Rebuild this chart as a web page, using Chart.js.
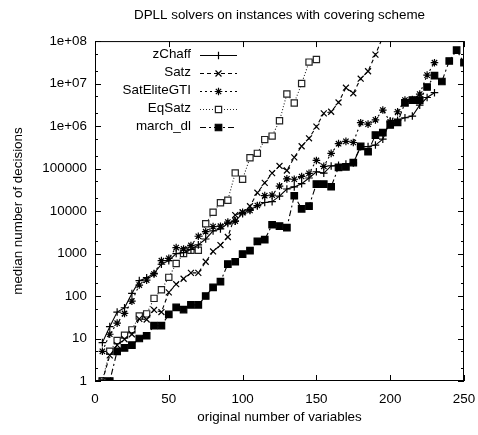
<!DOCTYPE html>
<html><head><meta charset="utf-8">
<script src="https://cdn.jsdelivr.net/npm/chart.js@4.4.1/dist/chart.umd.min.js"></script>
<style>html,body{margin:0;padding:0;background:#fff}canvas{display:block}</style>
</head><body>
<canvas id="c" width="478" height="435"></canvas>
<script>
// ---- data ----
const xValues = [5,10,15,20,25,30,35,40,45,50,55,60,65,70,75,80,85,90,95,100,105,110,115,120,125,130,135,140,145,150,155,160,165,170,175,180,185,190,195,200,205,210,215,220,225,230,235,240,245,250];
const zChaff = [8,19,42,53,115,230,270,340,560,680,1000,1050,1250,1600,2200,3400,3800,5100,5800,8700,10800,13200,15900,16700,22500,33000,37000,44000,60000,84000,78000,115000,120000,128000,135000,326000,330000,357000,490000,1330000,1370000,1570000,1720000,3100000,4700000,6100000];
const satz = [1,4,7,9.6,12.6,29,28,47,42,122,190,255,350,350,640,1120,1585,2450,8050,9300,13000,27000,46000,78000,115000,90000,183000,335000,515000,970000,1990000,2170000,3600000,8000000,5900000,13000000,19500000,48000000,125000000];
const satEliteGTI = [5,12.6,23,39,76,181,237,330,680,770,1380,1280,1550,2550,3260,4300,4400,5500,5800,9300,10300,13500,23000,23800,38700,57000,56000,65000,77000,155000,113000,228000,385000,437000,410000,1200000,1110000,1400000,2380000,1260000,2170000,4100000,4200000,5660000,15800000,31000000];
const eqSatz = [1,5,9,12,16,34,38,88,140,275,580,1000,1200,1200,5000,9400,15700,18000,79000,56000,180000,228000,480000,580000,1330000,5660000,3500000,10000000,32000000,37000000];
const marchDl = [1,1,5,6,7,10,11.6,20,20,37,54,48,62,62,100,160,217,566,641,973,1164,1936,2113,4760,4436,4050,22900,11300,13100,43200,43000,37300,107000,110000,138000,333000,249000,614000,697000,1060000,1220000,3530000,4100000,4100000,8300000,15300000,11200000,34000000,61000000,31000000];
const seriesNames = ['zChaff','Satz','SatEliteGTI','EqSatz','march_dl'];
const xTickValues = [0,50,100,150,200,250];
const yTickValues = [1,10,100,1000,10000,100000,1000000,10000000,100000000];
const yTickLabels = ['1','10','100','1000','10000','100000','1e+06','1e+07','1e+08'];
const titleText = 'DPLL solvers on instances with covering scheme';
const xTitle = 'original number of variables';
const yTitle = 'median number of decisions';

// ---- styles ----
const FONT = "'Liberation Sans', Arial, Helvetica, sans-serif";
const FS = 13.4;
Chart.defaults.font.family = FONT;
Chart.defaults.font.size = FS;
Chart.defaults.color = '#000';

const styles = [
  {dash: [], pointStyle: 'cross', radius: 3.8, fill: '#000', color: '#000'},
  {dash: [4,3], pointStyle: 'crossRot', radius: 4.2, fill: '#000', color: '#000'},
  {dash: [2,3], pointStyle: 'star', radius: 3.8, fill: '#000', color: '#000'},
  {dash: [1,2], pointStyle: 'rect', radius: 4.4, fill: '#fff', color: '#222'},
  {dash: [6,3,2,3], pointStyle: 'rect', radius: 4.6, fill: '#000', color: '#000'}
];
const seriesValues = [zChaff, satz, satEliteGTI, eqSatz, marchDl];

const datasets = seriesValues.map((vals, i) => ({
  label: seriesNames[i],
  data: vals.map((v, k) => ({x: xValues[k], y: v})),
  borderColor: styles[i].color,
  backgroundColor: styles[i].fill,
  borderWidth: 1.1,
  borderDash: styles[i].dash,
  pointStyle: styles[i].pointStyle,
  pointRadius: styles[i].radius,
  pointBorderColor: styles[i].color,
  pointBackgroundColor: styles[i].fill,
  pointBorderWidth: 1.2,
  tension: 0,
  fill: false
}));

const framePlugin = {
  id: 'frame',
  afterDatasetsDraw(chart) {
    const {ctx, chartArea: a, scales: {x, y}} = chart;
    ctx.save();
    ctx.strokeStyle = '#000';
    ctx.lineWidth = 1;
    ctx.setLineDash([]);
    ctx.strokeRect(a.left + 0.5, a.top + 0.5, a.right - a.left - 1, a.bottom - a.top - 1);
    ctx.beginPath();
    xTickValues.forEach(v => {
      const px = Math.round(x.getPixelForValue(v)) + 0.5;
      ctx.moveTo(px, a.bottom); ctx.lineTo(px, a.bottom - 6);
      ctx.moveTo(px, a.top); ctx.lineTo(px, a.top + 6);
    });
    yTickValues.forEach((v, i) => {
      const py = Math.round(y.getPixelForValue(v)) + 0.5;
      ctx.moveTo(a.left, py); ctx.lineTo(a.left + 6, py);
      ctx.moveTo(a.right, py); ctx.lineTo(a.right - 6, py);
      if (i < yTickValues.length - 1) {
        [2, 5].forEach(m => {
          const pm = Math.round(y.getPixelForValue(v * m)) + 0.5;
          ctx.moveTo(a.left, pm); ctx.lineTo(a.left + 3, pm);
          ctx.moveTo(a.right, pm); ctx.lineTo(a.right - 3, pm);
        });
      }
    });
    ctx.stroke();
    ctx.restore();
  },
  afterDraw(chart) {
    const {ctx} = chart;
    ctx.save();
    ctx.font = FS + 'px ' + FONT;
    ctx.textAlign = 'right';
    ctx.textBaseline = 'middle';
    chart.data.datasets.forEach((ds, i) => {
      const yy = 54.5 + i * 18;
      ctx.fillStyle = '#000';
      ctx.fillText(ds.label, 191, yy);
      ctx.beginPath();
      ctx.strokeStyle = ds.borderColor;
      ctx.lineWidth = 1.1;
      ctx.setLineDash(ds.borderDash);
      ctx.moveTo(200, Math.round(yy) + 0.5);
      ctx.lineTo(237, Math.round(yy) + 0.5);
      ctx.stroke();
      ctx.setLineDash([]);
      ctx.lineWidth = 1.2;
      ctx.fillStyle = ds.pointBackgroundColor;
      ctx.strokeStyle = ds.pointBorderColor;
      Chart.helpers.drawPoint(ctx, {pointStyle: ds.pointStyle, radius: ds.pointRadius, rotation: 0, borderWidth: 1.2}, 218.5, Math.round(yy) + 0.5);
    });
    ctx.restore();
  }
};

new Chart(document.getElementById('c'), {
  type: 'line',
  data: {datasets},
  options: {
    responsive: false,
    animation: false,
    devicePixelRatio: 1,
    layout: {padding: {left: 0, right: 14, top: 0, bottom: 0}},
    plugins: {
      legend: {display: false},
      tooltip: {enabled: false},
      title: {
        display: true, text: titleText, fullSize: false,
        font: {size: FS, weight: 'normal'}, color: '#000',
        padding: {top: 7, bottom: 18}
      }
    },
    scales: {
      x: {
        type: 'linear', min: 0, max: 250,
        grid: {display: false, drawTicks: false},
        border: {display: false},
        ticks: {stepSize: 50, padding: 10, color: '#000', font: {size: FS}},
        title: {display: true, text: xTitle, color: '#000', font: {size: FS}, padding: {top: 0, bottom: 10}},
        afterFit(s) { s.height = 54; s.paddingLeft = 0; s.paddingRight = 0; }
      },
      y: {
        type: 'logarithmic', min: 1, max: 100000000,
        grid: {display: false, drawTicks: false},
        border: {display: false},
        afterBuildTicks(s) { s.ticks = yTickValues.map(v => ({value: v})); },
        ticks: {
          autoSkip: false, padding: 8, color: '#000', font: {size: FS},
          callback: (v, i) => yTickLabels[i]
        },
        title: {display: true, text: yTitle, color: '#000', font: {size: FS}, padding: {top: 10, bottom: 0}},
        afterFit(s) { s.width = 95; s.paddingTop = 0; s.paddingBottom = 0; }
      }
    }
  },
  plugins: [framePlugin]
});
</script>
</body></html>
